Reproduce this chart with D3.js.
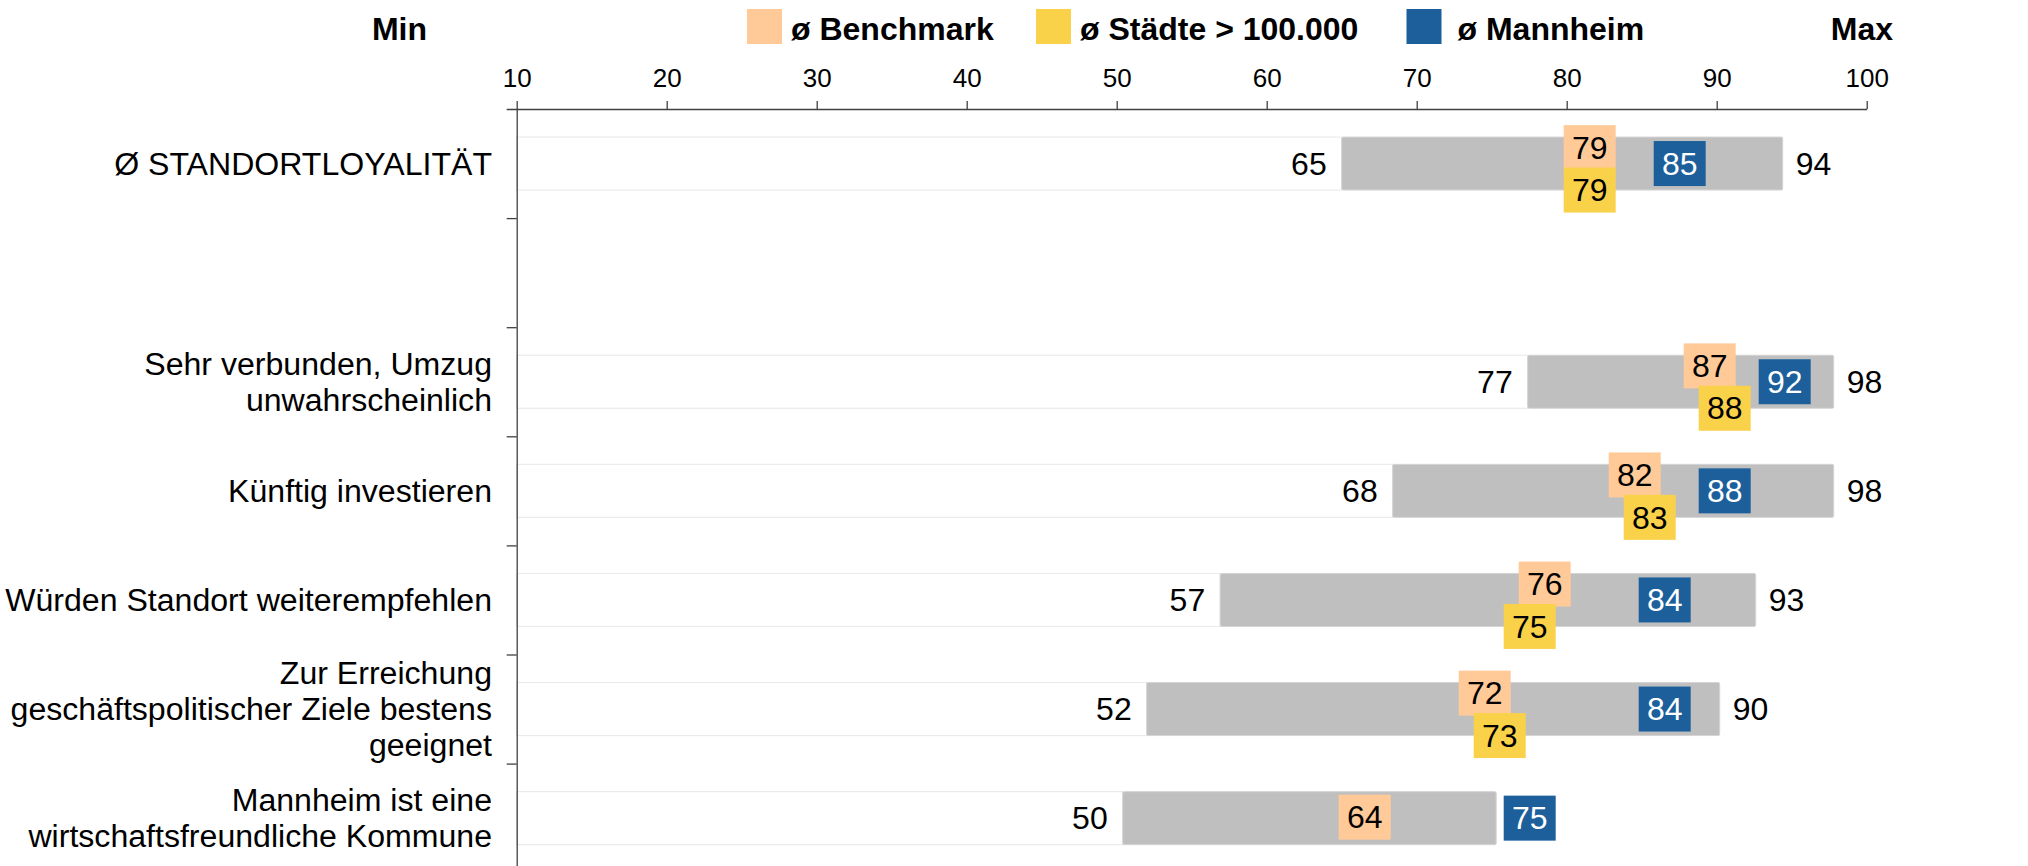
<!DOCTYPE html>
<html>
<head>
<meta charset="utf-8">
<script src="https://cdn.jsdelivr.net/npm/d3@7"></script>
<style>
  html, body { margin: 0; padding: 0; background: #ffffff; }
  svg { display: block; font-family: "Liberation Sans", Arial, sans-serif; }
</style>
</head>
<body>
<svg id="chart" width="2028" height="866"></svg>
<script>
// ---------- DATA ----------
const categories = [
  "Ø STANDORTLOYALITÄT",
  "",
  "Sehr verbunden, Umzug\nunwahrscheinlich",
  "Künftig investieren",
  "Würden Standort weiterempfehlen",
  "Zur Erreichung\ngeschäftspolitischer Ziele bestens\ngeeignet",
  "Mannheim ist eine\nwirtschaftsfreundliche Kommune"
];
const minValues  = [65.0, null, 77.4, 68.4, 56.9, 52.0, 50.4];
const maxValues  = [94.4, null, 97.8, 97.8, 92.6, 90.2, 75.3];
const maxLabelShown = [true, false, true, true, true, true, false];
const benchmark  = [79, null, 87, 82, 76, 72, 64];
const staedte    = [79, null, 88, 83, 75, 73, null];
const mannheim   = [85, null, 92, 88, 84, 84, 75];
const xTicks     = [10, 20, 30, 40, 50, 60, 70, 80, 90, 100];
const seriesNames = ["ø Benchmark", "ø Städte > 100.000", "ø Mannheim"];

// ---------- LAYOUT ----------
const plotL = 516.7, plotR = 1866.7, plotT = 109, plotB = 872.7;
const colors = { bench: "#FFCA98", staedte: "#F9D24A", mann: "#1C5F9B", range: "#BFBFBF" };
const axisColor = "#404040";
const fontMain = 32, fontCat = 32.1, fontTick = 26;
const fmt = d3.format(".0f");

const svg = d3.select("#chart");

const x = d3.scaleLinear().domain([10, 100]).range([plotL, plotR]);
const y = d3.scaleBand().domain(d3.range(categories.length)).range([plotT, plotB])
  .paddingInner(0.514).paddingOuter(0.257);
const yIdx = d3.scaleLinear().domain([0, categories.length]).range([plotT, plotB]);

const rows = categories.map((c, i) => ({
  i, cat: c, min: minValues[i], max: maxValues[i], showMax: maxLabelShown[i],
  bench: benchmark[i], staedte: staedte[i], mann: mannheim[i]
})).filter(d => d.min !== null);

// white base bars (axis to min)
svg.append("g").selectAll("rect").data(rows).join("rect")
  .attr("x", x(10)).attr("y", d => y(d.i))
  .attr("width", d => x(d.min) - x(10)).attr("height", y.bandwidth())
  .attr("fill", "#ffffff").attr("stroke", "#ebebeb").attr("stroke-width", 1.2);

// range bars (min to max)
svg.append("g").selectAll("rect").data(rows).join("rect")
  .attr("x", d => x(d.min)).attr("y", d => y(d.i))
  .attr("width", d => x(d.max) - x(d.min)).attr("height", y.bandwidth())
  .attr("fill", colors.range).attr("stroke", "#d4d4d4").attr("stroke-width", 1)
  .attr("rx", 1.5);

// min / max labels
svg.append("g").selectAll("text").data(rows).join("text")
  .attr("x", d => x(d.min) - 15).attr("y", d => y(d.i) + y.bandwidth() / 2)
  .attr("dy", "0.35em").attr("text-anchor", "end")
  .attr("font-size", fontMain).attr("fill", "#000").text(d => fmt(d.min));
svg.append("g").selectAll("text").data(rows.filter(d => d.showMax)).join("text")
  .attr("x", d => x(d.max) + 13).attr("y", d => y(d.i) + y.bandwidth() / 2)
  .attr("dy", "0.35em").attr("text-anchor", "start")
  .attr("font-size", fontMain).attr("fill", "#000").text(d => fmt(d.max));

// top axis
const xAxis = svg.append("g").attr("transform", `translate(0,${plotT})`)
  .call(d3.axisTop(x).tickValues(xTicks).tickSize(8).tickSizeOuter(0).tickPadding(14));
xAxis.selectAll("path, line").attr("stroke", axisColor).attr("stroke-width", 1.3);
xAxis.selectAll("text").attr("font-size", fontTick).attr("fill", "#000")
  .attr("font-family", "\"Liberation Sans\", Arial, sans-serif");

// left axis (category boundaries)
const yAxis = svg.append("g").attr("transform", `translate(${plotL},0)`)
  .call(d3.axisLeft(yIdx).tickValues(d3.range(1, categories.length)).tickFormat("")
    .tickSize(10).tickSizeOuter(10));
yAxis.selectAll("path, line").attr("stroke", axisColor).attr("stroke-width", 1.3);

// category labels
const lineH = 36;
svg.append("g").selectAll("text").data(rows).join("text")
  .attr("text-anchor", "end").attr("font-size", fontCat).attr("fill", "#000")
  .each(function (d) {
    const lines = d.cat.split("\n");
    const cy = y(d.i) + y.bandwidth() / 2;
    const t = d3.select(this);
    lines.forEach((ln, k) => {
      t.append("tspan").attr("x", 492)
        .attr("y", cy + (k - (lines.length - 1) / 2) * lineH)
        .attr("dy", "0.35em").text(ln);
    });
  });

// value boxes
const boxH = 45, padX = 8.2, gap = 12;
function drawBoxes(key, fill, textFill, offsetFn) {
  const g = svg.append("g");
  const items = rows.filter(d => d[key] !== null);
  const grp = g.selectAll("g").data(items).join("g");
  grp.each(function (d) {
    const gg = d3.select(this);
    const cy = y(d.i) + y.bandwidth() / 2 + offsetFn(d);
    const txt = gg.append("text").attr("font-size", fontMain).attr("fill", textFill)
      .attr("text-anchor", "middle").attr("dy", "0.35em").text(d[key]);
    const tw = txt.node().getComputedTextLength();
    const bw = tw + 2 * padX;
    const bx = x(d[key]) + gap;
    gg.insert("rect", "text").attr("x", bx).attr("y", cy - boxH / 2)
      .attr("width", bw).attr("height", boxH).attr("fill", fill);
    txt.attr("x", bx + bw / 2).attr("y", cy);
  });
}
const bw0 = y.bandwidth();
drawBoxes("bench", colors.bench, "#000", d => d.staedte === null ? -1 : -0.3 * bw0);
drawBoxes("staedte", colors.staedte, "#000", d => 0.5 * bw0);
drawBoxes("mann", colors.mann, "#fff", d => 0);

// header: Min / Max
svg.append("text").attr("x", 427).attr("y", 40).attr("text-anchor", "end")
  .attr("font-size", fontMain).attr("font-weight", "bold").text("Min");
svg.append("text").attr("x", 1893).attr("y", 40).attr("text-anchor", "end")
  .attr("font-size", fontMain).attr("font-weight", "bold").text("Max");

// legend
const legendX = [747, 1036, 1406.5];
const legendTextGap = [44, 44, 51];
const legendColors = [colors.bench, colors.staedte, colors.mann];
const lg = svg.append("g").selectAll("g").data(seriesNames).join("g")
  .attr("transform", (d, i) => `translate(${legendX[i]},0)`);
lg.append("rect").attr("x", 0).attr("y", 9).attr("width", 35).attr("height", 35)
  .attr("fill", (d, i) => legendColors[i]);
lg.append("text").attr("x", (d, i) => legendTextGap[i]).attr("y", 40)
  .attr("font-size", fontMain).attr("font-weight", "bold").attr("fill", "#000").text(d => d);
</script>
</body>
</html>
